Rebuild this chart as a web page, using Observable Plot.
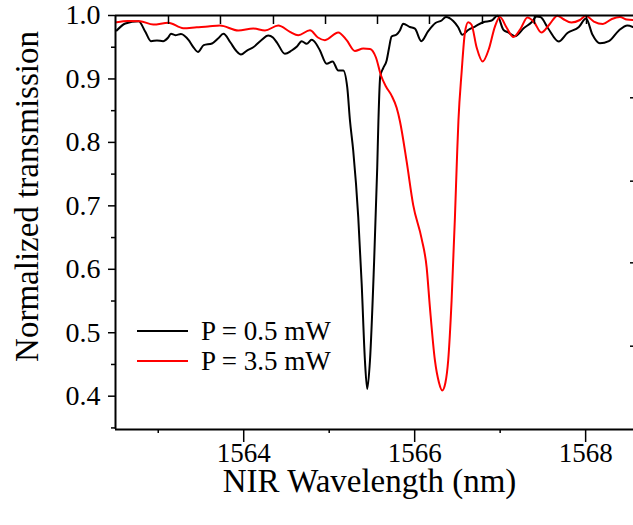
<!DOCTYPE html>
<html><head><meta charset="utf-8">
<script src="https://cdn.jsdelivr.net/npm/d3@7"></script>
<script src="https://cdn.jsdelivr.net/npm/@observablehq/plot@0.6"></script>
<style>
html,body{margin:0;padding:0;background:#fff;overflow:hidden;}
#wrap{position:relative;width:633px;height:525px;}
.legend{position:absolute;left:137px;top:316px;font-family:"Liberation Serif",serif;font-size:27px;color:#000;line-height:30px;}
.row{display:flex;align-items:center;height:30px;}
.sw{width:51px;height:0;border-top:2.5px solid;margin-right:13px;}
</style></head><body><div id="wrap"></div>
<script>
// P = 0.5 mW (black)
const wavelengthBlack = [1562.514,1562.615,1562.771,1562.849,1562.915,1562.985,1563.056,1563.114,1563.149,1563.199,1563.266,1563.356,1563.406,1563.465,1563.532,1563.629,1563.699,1563.763,1563.845,1563.909,1563.968,1564.038,1564.112,1564.202,1564.287,1564.342,1564.389,1564.482,1564.561,1564.623,1564.678,1564.736,1564.795,1564.845,1564.892,1564.970,1565.040,1565.106,1565.164,1565.211,1565.243,1565.281,1565.340,1565.380,1565.418,1565.445,1565.477,1565.523,1565.562,1565.576,1565.597,1565.632,1565.672,1565.699,1565.730,1565.789,1565.827,1565.866,1565.944,1566.003,1566.077,1566.158,1566.243,1566.315,1566.365,1566.451,1566.509,1566.558,1566.626,1566.705,1566.802,1566.900,1566.968,1567.036,1567.094,1567.173,1567.278,1567.368,1567.426,1567.471,1567.562,1567.685,1567.787,1567.921,1568.005,1568.079,1568.167,1568.272,1568.389,1568.488,1568.553];
const transBlack = [0.9764,0.9874,0.9910,0.9743,0.9595,0.9606,0.9595,0.9649,0.9712,0.9690,0.9708,0.9611,0.9511,0.9425,0.9532,0.9559,0.9637,0.9713,0.9574,0.9448,0.9385,0.9448,0.9500,0.9606,0.9685,0.9653,0.9574,0.9396,0.9448,0.9511,0.9595,0.9554,0.9617,0.9559,0.9448,0.9239,0.9275,0.9133,0.9133,0.8870,0.8345,0.7872,0.6821,0.5771,0.4563,0.4114,0.4563,0.6030,0.7609,0.8345,0.9039,0.9172,0.9291,0.9480,0.9669,0.9701,0.9764,0.9871,0.9818,0.9792,0.9595,0.9754,0.9882,0.9921,0.9976,0.9913,0.9816,0.9696,0.9771,0.9826,0.9894,0.9921,0.9995,0.9779,0.9732,0.9674,0.9803,0.9894,0.9984,0.9976,0.9795,0.9590,0.9724,0.9819,0.9953,0.9701,0.9562,0.9595,0.9764,0.9842,0.9819];
// P = 3.5 mW (red)
const wavelengthRed = [1562.514,1562.646,1562.787,1562.942,1563.118,1563.293,1563.450,1563.582,1563.722,1563.936,1564.112,1564.249,1564.404,1564.541,1564.638,1564.775,1564.868,1564.950,1565.106,1565.204,1565.301,1565.398,1565.477,1565.547,1565.605,1565.664,1565.730,1565.789,1565.827,1565.906,1565.983,1566.081,1566.140,1566.178,1566.237,1566.284,1566.322,1566.360,1566.392,1566.432,1566.471,1566.498,1566.512,1566.549,1566.588,1566.626,1566.664,1566.725,1566.795,1566.866,1566.939,1566.997,1567.075,1567.155,1567.237,1567.319,1567.395,1567.482,1567.576,1567.670,1567.737,1567.833,1567.933,1568.003,1568.096,1568.202,1568.307,1568.401,1568.482,1568.553];
const transRed = [0.9894,0.9913,0.9910,0.9858,0.9885,0.9800,0.9815,0.9826,0.9842,0.9764,0.9795,0.9764,0.9842,0.9743,0.9690,0.9767,0.9653,0.9611,0.9732,0.9611,0.9441,0.9480,0.9472,0.9338,0.9058,0.8881,0.8738,0.8545,0.8338,0.7700,0.7012,0.6484,0.6030,0.5403,0.4563,0.4216,0.4090,0.4216,0.4563,0.5508,0.6821,0.7872,0.8345,0.9102,0.9732,0.9894,0.9858,0.9496,0.9275,0.9464,0.9826,0.9976,0.9811,0.9661,0.9787,0.9968,0.9898,0.9732,0.9858,0.9997,0.9945,0.9890,0.9929,0.9995,0.9905,0.9866,0.9945,0.9976,0.9937,0.9929];

const seriesNames = ["P = 0.5 mW", "P = 3.5 mW"];
const seriesColors = ["#000000", "#ff0000"];
const xDomain = [1562.5, 1568.56];
const yDomain = [0.3475, 1.0];
const xMajorTicks = [1564, 1566, 1568];
const xMinorTicks = [1563, 1565, 1567];
const yMajorTicks = [0.4, 0.5, 0.6, 0.7, 0.8, 0.9, 1.0];
const yMinorTicks = [0.35, 0.45, 0.55, 0.65, 0.75, 0.85, 0.95];
const topTicks = [1563.120, 1563.728, 1564.348, 1564.957, 1565.565, 1566.173, 1566.793, 1567.402, 1568.010];
const rightTicks = [0.8703, 0.7389, 0.6102, 0.4788];
const xLabel = "NIR Wavelength (nm)";
const yLabel = "Normalized transmission";

const rows = [
  ...wavelengthBlack.map((x, i) => ({x, y: transBlack[i], s: seriesNames[0]})),
  ...wavelengthRed.map((x, i) => ({x, y: transRed[i], s: seriesNames[1]}))
];

const font = '"Liberation Serif", serif';
const chart = Plot.plot({
  width: 633, height: 525,
  marginLeft: 115, marginRight: 0, marginTop: 15, marginBottom: 96,
  x: {domain: xDomain, label: null},
  y: {domain: yDomain, label: null},
  color: {domain: seriesNames, range: seriesColors},
  style: {fontFamily: font, background: "white", color: "black", overflow: "visible"},
  marks: [
    Plot.line(rows, {x: "x", y: "y", z: "s", stroke: "s", strokeWidth: 2, curve: "monotone-x"}),
    Plot.ruleY([yDomain[1]], {strokeWidth: 2}),
    Plot.ruleY([yDomain[0]], {strokeWidth: 2}),
    Plot.ruleX([xDomain[0]], {strokeWidth: 2}),
    Plot.axisX(xMajorTicks, {anchor: "bottom", tickSize: 13, tickPadding: 0, fontSize: 27, strokeWidth: 1.5, tickFormat: d => String(d), label: null}),
    Plot.axisX(xMinorTicks, {anchor: "bottom", tickSize: 4, strokeWidth: 1.5, tickFormat: () => "", label: null}),
    Plot.axisX(topTicks, {anchor: "top", tickSize: -8, strokeWidth: 1.5, tickFormat: () => "", label: null}),
    Plot.axisY(yMajorTicks, {anchor: "left", tickSize: 7, tickPadding: 8, fontSize: 28, strokeWidth: 1.5, tickFormat: d => d.toFixed(1), label: null}),
    Plot.axisY(yMinorTicks, {anchor: "left", tickSize: 4, strokeWidth: 1.5, tickFormat: () => "", label: null}),
    Plot.axisY(rightTicks, {anchor: "right", tickSize: -4, strokeWidth: 1.5, tickFormat: () => "", label: null}),
    Plot.text([xLabel], {text: d => d, frameAnchor: "bottom", textAnchor: "middle", dx: -5, dy: 62, lineAnchor: "bottom", fontSize: 33}),
    Plot.text([yLabel], {text: d => d, frameAnchor: "left", textAnchor: "middle", rotate: -90, dx: -88, dy: -26, lineAnchor: "middle", fontSize: 33})
  ]
});
const wrap = document.getElementById("wrap");
wrap.appendChild(chart);

const legend = document.createElement("div");
legend.className = "legend";
seriesNames.forEach((name, i) => {
  const row = document.createElement("div");
  row.className = "row";
  const sw = document.createElement("span");
  sw.className = "sw";
  sw.style.borderTopColor = seriesColors[i];
  const t = document.createElement("span");
  t.textContent = name;
  row.appendChild(sw); row.appendChild(t);
  legend.appendChild(row);
});
wrap.appendChild(legend);
</script></body></html>
